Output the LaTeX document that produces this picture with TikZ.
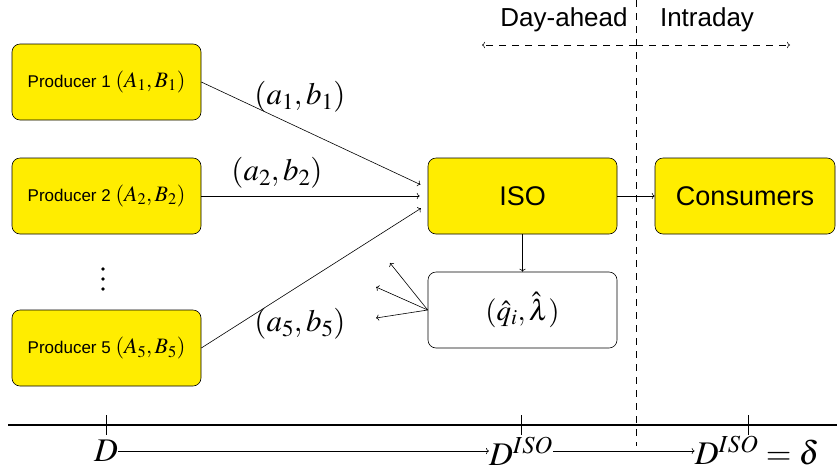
\documentclass[tikz,border=0pt]{standalone}
\usepackage{mathptmx}
\usepackage[no-math]{fontspec}
\newfontfamily\arialf{Liberation Sans}
\usetikzlibrary{arrows.meta}
\definecolor{ylw}{RGB}{255,237,0}
\newcommand{\prodmath}[1]{{\fontsize{22}{24}\selectfont$#1$}}
\tikzset{
  ybox/.style={draw, fill=ylw, rounded corners=8pt, minimum width=189pt, minimum height=76pt, inner sep=0pt, line width=0.6pt},
  wbox/.style={draw, fill=white, rounded corners=8pt, minimum width=189pt, minimum height=76pt, inner sep=0pt, line width=0.6pt},
  conn/.style={->, line width=0.6pt},
  lbl/.style={inner sep=0pt, font=\fontsize{31}{34}\selectfont},
  qlbl/.style={inner sep=0pt, font=\fontsize{29}{32}\selectfont},
  axlbl/.style={inner sep=0pt, font=\fontsize{33}{36}\selectfont},
  prodtxt/.style={font=\arialf\fontsize{17}{20}\selectfont},
  bigtxt/.style={font=\arialf\fontsize{27}{30}\selectfont},
  dashl/.style={dash pattern=on 7pt off 6pt, line width=0.6pt},
}
\begin{document}
\begin{tikzpicture}[x=1pt,y=-1pt]
\useasboundingbox (0,0) rectangle (837,472);
% producers
\node[ybox, prodtxt] (p1) at (106.5,82) {Producer 1 \prodmath{(A_1,B_1)}};
\node[ybox, prodtxt] (p2) at (106.5,196) {Producer 2 \prodmath{(A_2,B_2)}};
\node[ybox, prodtxt] (p5) at (106.5,348) {Producer 5 \prodmath{(A_5,B_5)}};
\foreach \yy in {269,279,289} \fill (103,\yy) circle[radius=1.9pt];
% ISO, consumers, q
\node[ybox, bigtxt] (iso) at (522.5,196) {ISO};
\node[ybox, bigtxt, minimum width=180pt] (cons) at (745,196) {Consumers};
\node[wbox, qlbl] (q) at (522.5,310) {$(\hat{q}_i,\hat{\lambda})$};
% connectors
\draw[conn, shorten >=8pt] (p1.east) -- ([yshift=8pt]iso.west);
\draw[conn, shorten >=8pt] (p2.east) -- (iso.west);
\draw[conn, shorten >=8pt] (p5.east) -- ([yshift=-8pt]iso.west);
\draw[conn] (iso.south) -- (q.north);
\draw[conn] (iso.east) -- (cons.west);
\coordinate (o1) at (390,263);
\coordinate (o2) at (376,287);
\coordinate (o3) at (376,318);
\draw[conn] (q.west) -- (o1);
\draw[conn] (q.west) -- (o2);
\draw[conn] (q.west) -- (o3);
% labels
\node[lbl] (l1) at (300,97) {$(a_1,b_1)$};
\node[lbl] (l2) at (277,173) {$(a_2,b_2)$};
\node[lbl] (l5) at (300,324) {$(a_5,b_5)$};
% day-ahead / intraday
\coordinate (vt) at (636,0);
\coordinate (vb) at (636,446);
\draw[dashl] (vt) -- (vb);
\node[font=\arialf\fontsize{26}{30}\selectfont, inner sep=0pt] (da) at (564,20) {Day-ahead};
\node[font=\arialf\fontsize{26}{30}\selectfont, inner sep=0pt] (id) at (707,20) {Intraday};
\coordinate (mid) at (636,45);
\coordinate (left) at (482,45);
\coordinate (right) at (790,45);
\draw[dashl, ->] (mid) -- (left);
\draw[dashl, ->] (mid) -- (right);
% timeline
\coordinate (ax1) at (8,425);
\coordinate (ax2) at (837,425);
\draw[line width=2.2pt] (ax1) -- (ax2);
\foreach \xx in {106,521,748} \draw[line width=1pt] (\xx,415) -- (\xx,435);
\node[axlbl] (t1) at (106,451) {$D$};
\node[axlbl] (t2) at (521,451) {$D^{ISO}$};
\node[axlbl] (t3) at (757,451) {$D^{ISO}=\delta$};
\draw[conn] (t1) -- (t2);
\draw[conn] (t2) -- (t3);
\end{tikzpicture}
\end{document}
